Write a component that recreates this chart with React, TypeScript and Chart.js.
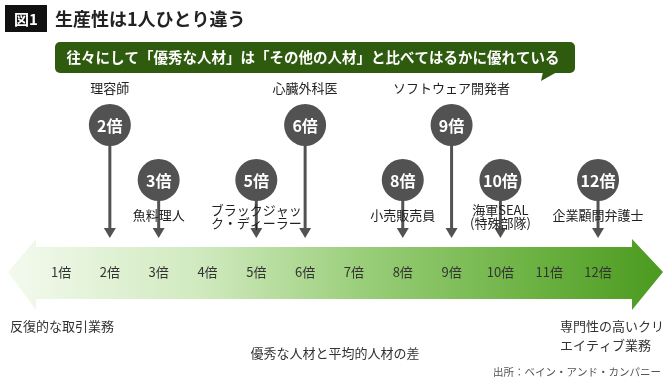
import React, { useEffect, useRef } from "react";
import { Chart, registerables } from "chart.js";
Chart.register(...registerables);

// ---- data ----
const roleLines: string[][] = [
  ["理容師"],
  ["魚料理人"],
  ["ブラックジャッ", "ク・ディーラー"],
  ["心臓外科医"],
  ["小売販売員"],
  ["ソフトウェア開発者"],
  ["海軍SEAL", "(特殊部隊)"],
  ["企業顧問弁護士"],
];
const multiples = [2, 3, 5, 6, 8, 9, 10, 12];
const rows = [1, 2, 2, 1, 2, 1, 2, 2]; // 1 = upper row, 2 = lower row
const tickValues = [1, 2, 3, 4, 5, 6, 7, 8, 9, 10, 11, 12];
const tickLabels = ["1倍", "2倍", "3倍", "4倍", "5倍", "6倍", "7倍", "8倍", "9倍", "10倍", "11倍", "12倍"];
const titleTag = "図1";
const titleText = "生産性は1人ひとり違う";
const calloutText = "往々にして「優秀な人材」は「その他の人材」と比べてはるかに優れている";
const leftEndLabel = ["反復的な取引業務"];
const rightEndLabel = ["専門性の高いクリ", "エイティブ業務"];
const axisTitle = "優秀な人材と平均的人材の差";
const sourceText = "出所：ベイン・アンド・カンパニー";

const FONT = '"Noto Sans CJK JP", "Noto Sans", sans-serif';
const ROW_Y: Record<number, number> = { 1: 125, 2: 180 };
const BAND_Y = 272;
const CIRCLE = "#525252";

const overlay = {
  id: "overlay",
  beforeDatasetsDraw(chart: any) {
    const ctx: CanvasRenderingContext2D = chart.ctx;
    const xs = chart.scales.x;
    const ys = chart.scales.y;
    ctx.save();
    // big gradient arrow band
    const yc = ys.getPixelForValue(BAND_Y);
    const xL = 8, xR = 663, headL = 36, headR = 632;
    const grad = ctx.createLinearGradient(xL, 0, xR, 0);
    grad.addColorStop(0, "#f3faee");
    grad.addColorStop(0.3, "#cfe9bd");
    grad.addColorStop(0.55, "#98cd77");
    grad.addColorStop(0.8, "#6cb243");
    grad.addColorStop(1, "#4b9a1f");
    ctx.fillStyle = grad;
    ctx.beginPath();
    ctx.moveTo(xL, yc);
    ctx.lineTo(headL, yc - 33);
    ctx.lineTo(headL, yc - 25);
    ctx.lineTo(headR, yc - 25);
    ctx.lineTo(headR, yc - 33);
    ctx.lineTo(xR, yc);
    ctx.lineTo(headR, yc + 38);
    ctx.lineTo(headR, yc + 27);
    ctx.lineTo(headL, yc + 27);
    ctx.lineTo(headL, yc + 38);
    ctx.closePath();
    ctx.fill();

    // tick labels
    ctx.fillStyle = "#333";
    ctx.font = `13px ${FONT}`;
    ctx.textAlign = "center";
    ctx.textBaseline = "middle";
    tickValues.forEach((v, i) => {
      ctx.fillText(tickLabels[i], xs.getPixelForValue(v), yc);
    });

    // pointer lines
    ctx.strokeStyle = CIRCLE;
    ctx.fillStyle = CIRCLE;
    ctx.lineWidth = 3;
    multiples.forEach((m, i) => {
      const x = xs.getPixelForValue(m);
      const y = ys.getPixelForValue(ROW_Y[rows[i]]);
      ctx.beginPath();
      ctx.moveTo(x, y);
      ctx.lineTo(x, 230);
      ctx.stroke();
      ctx.beginPath();
      ctx.moveTo(x - 6, 228);
      ctx.lineTo(x + 6, 228);
      ctx.lineTo(x, 238);
      ctx.closePath();
      ctx.fill();
    });
    ctx.restore();
  },
  afterDatasetsDraw(chart: any) {
    const ctx: CanvasRenderingContext2D = chart.ctx;
    const xs = chart.scales.x;
    const ys = chart.scales.y;
    ctx.save();
    ctx.textAlign = "center";
    ctx.textBaseline = "middle";
    multiples.forEach((m, i) => {
      const x = xs.getPixelForValue(m);
      const y = ys.getPixelForValue(ROW_Y[rows[i]]);
      ctx.fillStyle = "#fff";
      ctx.font = `bold 16px ${FONT}`;
      ctx.fillText(`${m}倍`, x, y + 1);
      ctx.fillStyle = "#222";
      ctx.font = `13px ${FONT}`;
      const lines = roleLines[i];
      if (rows[i] === 1) {
        ctx.fillText(lines[0], x, y - 37);
      } else if (lines.length === 1) {
        ctx.fillText(lines[0], x, y + 35);
      } else {
        ctx.fillText(lines[0], x, y + 30);
        ctx.fillText(lines[1], x, y + 43);
      }
    });

    // title
    ctx.fillStyle = "#111";
    ctx.fillRect(5, 5, 42, 27);
    ctx.fillStyle = "#fff";
    ctx.font = `bold 15px ${FONT}`;
    ctx.fillText(titleTag, 26, 19);
    ctx.fillStyle = "#222";
    ctx.font = `bold 18px ${FONT}`;
    ctx.textAlign = "left";
    ctx.fillText(titleText, 55, 19);

    // callout
    ctx.fillStyle = "#2e5b0e";
    ctx.beginPath();
    (ctx as any).roundRect(55, 42, 520, 31, 5);
    ctx.fill();
    ctx.beginPath();
    ctx.moveTo(543, 72);
    ctx.lineTo(557, 72);
    ctx.lineTo(541, 81);
    ctx.closePath();
    ctx.fill();
    ctx.fillStyle = "#fff";
    ctx.font = `bold 14.5px ${FONT}`;
    ctx.textAlign = "center";
    ctx.fillText(calloutText, 313, 57);

    // end labels
    ctx.fillStyle = "#333";
    ctx.font = `13px ${FONT}`;
    ctx.textAlign = "left";
    ctx.fillText(leftEndLabel[0], 10, 326);
    ctx.fillText(rightEndLabel[0], 560, 326);
    ctx.fillText(rightEndLabel[1], 560, 345);
    ctx.textAlign = "center";
    ctx.fillText(axisTitle, 335, 353);
    ctx.fillStyle = "#555";
    ctx.font = `10.5px ${FONT}`;
    ctx.textAlign = "right";
    ctx.fillText(sourceText, 661, 372);
    ctx.restore();
  },
};

export default function App() {
  const ref = useRef<HTMLCanvasElement | null>(null);
  useEffect(() => {
    document.body.style.margin = "0";
    document.body.style.background = "#fff";
    const chart = new Chart(ref.current as HTMLCanvasElement, {
      type: "scatter",
      data: {
        datasets: [
          {
            data: multiples.map((m, i) => ({ x: m, y: ROW_Y[rows[i]] })),
            backgroundColor: CIRCLE,
            borderWidth: 0,
            pointRadius: 21,
            pointHoverRadius: 21,
            clip: false as any,
          },
        ],
      },
      options: {
        animation: false,
        responsive: false,
        maintainAspectRatio: false,
        layout: { padding: 0, autoPadding: false } as any,
        events: [],
        plugins: { legend: { display: false }, tooltip: { enabled: false } },
        scales: {
          x: { type: "linear", display: false, min: -0.25, max: 13.474 },
          y: { type: "linear", display: false, min: 0, max: 380, reverse: true },
        },
      },
      plugins: [overlay],
    });
    return () => chart.destroy();
  }, []);
  return (
    <div style={{ width: 670, height: 380 }}>
      <canvas ref={ref} width={670} height={380} />
    </div>
  );
}
